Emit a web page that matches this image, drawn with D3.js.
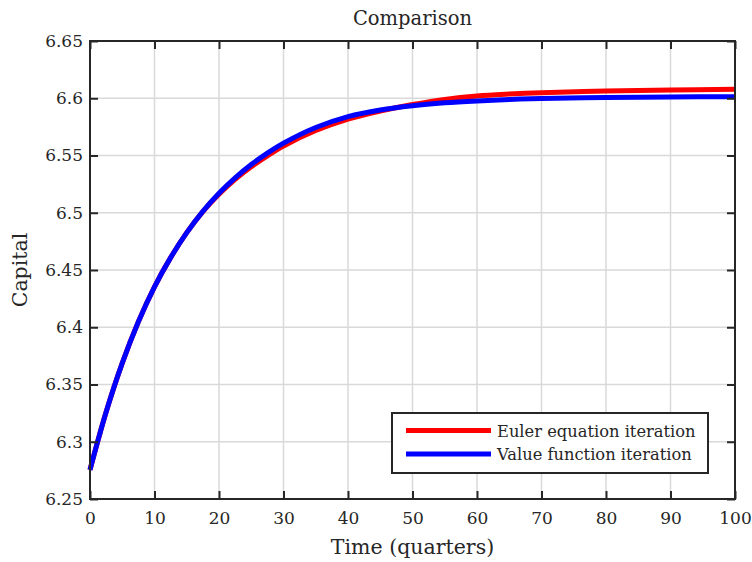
<!DOCTYPE html>
<html>
<head>
<meta charset="utf-8">
<script src="https://cdn.jsdelivr.net/npm/d3@7"></script>
<style>
  html, body { margin: 0; padding: 0; background: #fff; }
  svg { display: block; }
  text { font-family: "DejaVu Serif"; fill: #262626; }
</style>
</head>
<body>
<svg id="chart" width="752" height="562"></svg>
<script>
// ---- data ----
const times = [0, 2.5, 5, 7.5, 10, 12.5, 15, 17.5, 20, 22.5, 25, 27.5, 30, 35, 40, 45, 50, 55, 60, 65, 70, 80, 90, 100];
const valueFunction = [6.2755, 6.3260, 6.3687, 6.4048, 6.4353, 6.4608, 6.4826, 6.5012, 6.5170, 6.5305, 6.5421, 6.5521, 6.5608, 6.5745, 6.5840, 6.5898, 6.5935, 6.5960, 6.5977, 6.5990, 6.5998, 6.6007, 6.6012, 6.6013];
const eulerEquation = [6.2755, 6.3260, 6.3687, 6.4048, 6.4353, 6.4608, 6.4826, 6.5010, 6.5162, 6.5292, 6.5402, 6.5497, 6.5583, 6.5718, 6.5818, 6.5888, 6.5945, 6.5990, 6.6020, 6.6037, 6.6049, 6.6063, 6.6072, 6.6078];
const xTicks = [0, 10, 20, 30, 40, 50, 60, 70, 80, 90, 100];
const yTicks = [6.25, 6.3, 6.35, 6.4, 6.45, 6.5, 6.55, 6.6, 6.65];
const seriesNames = ["Euler equation iteration", "Value function iteration"];
const seriesColors = ["#ff0000", "#0000ff"];
const titleText = "Comparison";
const xLabel = "Time (quarters)";
const yLabel = "Capital";

// ---- layout ----
const svg = d3.select("#chart");
const L = 90, R = 735, T = 41, B = 499;
const x = d3.scaleLinear().domain([0, 100]).range([L, R]);
const y = d3.scaleLinear().domain([6.25, 6.65]).range([B, T]);
const axisColor = "#262626";
const FONT = "DejaVu Serif";

// grid
const grid = svg.append("g");
grid.selectAll(".gx").data(xTicks).enter().append("line")
  .attr("x1", d => x(d)).attr("x2", d => x(d)).attr("y1", T).attr("y2", B)
  .attr("stroke", "#d9d9d9").attr("stroke-width", 1.5);
grid.selectAll(".gy").data(yTicks).enter().append("line")
  .attr("x1", L).attr("x2", R).attr("y1", d => y(d)).attr("y2", d => y(d))
  .attr("stroke", "#d9d9d9").attr("stroke-width", 1.5);

// lines
const lineGen = d3.line().x((d, i) => x(times[i])).y(d => y(d)).curve(d3.curveCatmullRom.alpha(0.5));
const allSeries = [eulerEquation, valueFunction];
svg.append("g").selectAll("path").data(allSeries).enter().append("path")
  .attr("d", d => lineGen(d))
  .attr("fill", "none")
  .attr("stroke", (d, i) => seriesColors[i])
  .attr("stroke-width", 5)
  .attr("stroke-linejoin", "round");

// axes, inward ticks on all four sides
const tickLen = 8;
const xAxisB = d3.axisBottom(x).tickValues(xTicks).tickSize(-tickLen).tickPadding(13).tickFormat(d3.format("d"));
const xAxisT = d3.axisTop(x).tickValues(xTicks).tickSize(-tickLen).tickFormat("");
const yAxisL = d3.axisLeft(y).tickValues(yTicks).tickSize(-tickLen).tickPadding(7).tickFormat(d => String(d));
const yAxisR = d3.axisRight(y).tickValues(yTicks).tickSize(-tickLen).tickFormat("");

function styleAxis(g) {
  g.select(".domain").remove();
  g.selectAll(".tick line").attr("stroke", axisColor).attr("stroke-width", 2);
  g.selectAll(".tick text").attr("fill", axisColor)
    .style("font-family", FONT).style("font-size", "17px");
}
svg.append("g").attr("transform", `translate(0,${B})`).call(xAxisB).call(styleAxis);
svg.append("g").attr("transform", `translate(0,${T})`).call(xAxisT).call(styleAxis);
svg.append("g").attr("transform", `translate(${L},0)`).call(yAxisL).call(styleAxis);
svg.append("g").attr("transform", `translate(${R},0)`).call(yAxisR).call(styleAxis);
svg.append("rect").attr("x", L).attr("y", T).attr("width", R - L).attr("height", B - T)
  .attr("fill", "none").attr("stroke", axisColor).attr("stroke-width", 2);

// title and labels
svg.append("text").attr("x", (L + R) / 2).attr("y", 25).attr("text-anchor", "middle")
  .style("font-size", "19.5px").attr("fill", "#000").text(titleText);
svg.append("text").attr("x", (L + R) / 2).attr("y", 554).attr("text-anchor", "middle")
  .style("font-size", "20.5px").text(xLabel);
svg.append("text").attr("transform", `translate(27,${(T + B) / 2}) rotate(-90)`).attr("text-anchor", "middle")
  .style("font-size", "20.5px").text(yLabel);

// legend
const lg = svg.append("g");
lg.append("rect").attr("x", 392).attr("y", 413).attr("width", 316).attr("height", 60)
  .attr("fill", "#fff").attr("stroke", "#262626").attr("stroke-width", 2);
seriesNames.forEach((name, i) => {
  const yy = 430.5 + i * 23.5;
  lg.append("line").attr("x1", 406).attr("x2", 491).attr("y1", yy).attr("y2", yy)
    .attr("stroke", seriesColors[i]).attr("stroke-width", 5);
  lg.append("text").attr("x", 497).attr("y", yy + 6).style("font-size", "16.3px").attr("fill", "#000").text(name);
});
</script>
</body>
</html>
